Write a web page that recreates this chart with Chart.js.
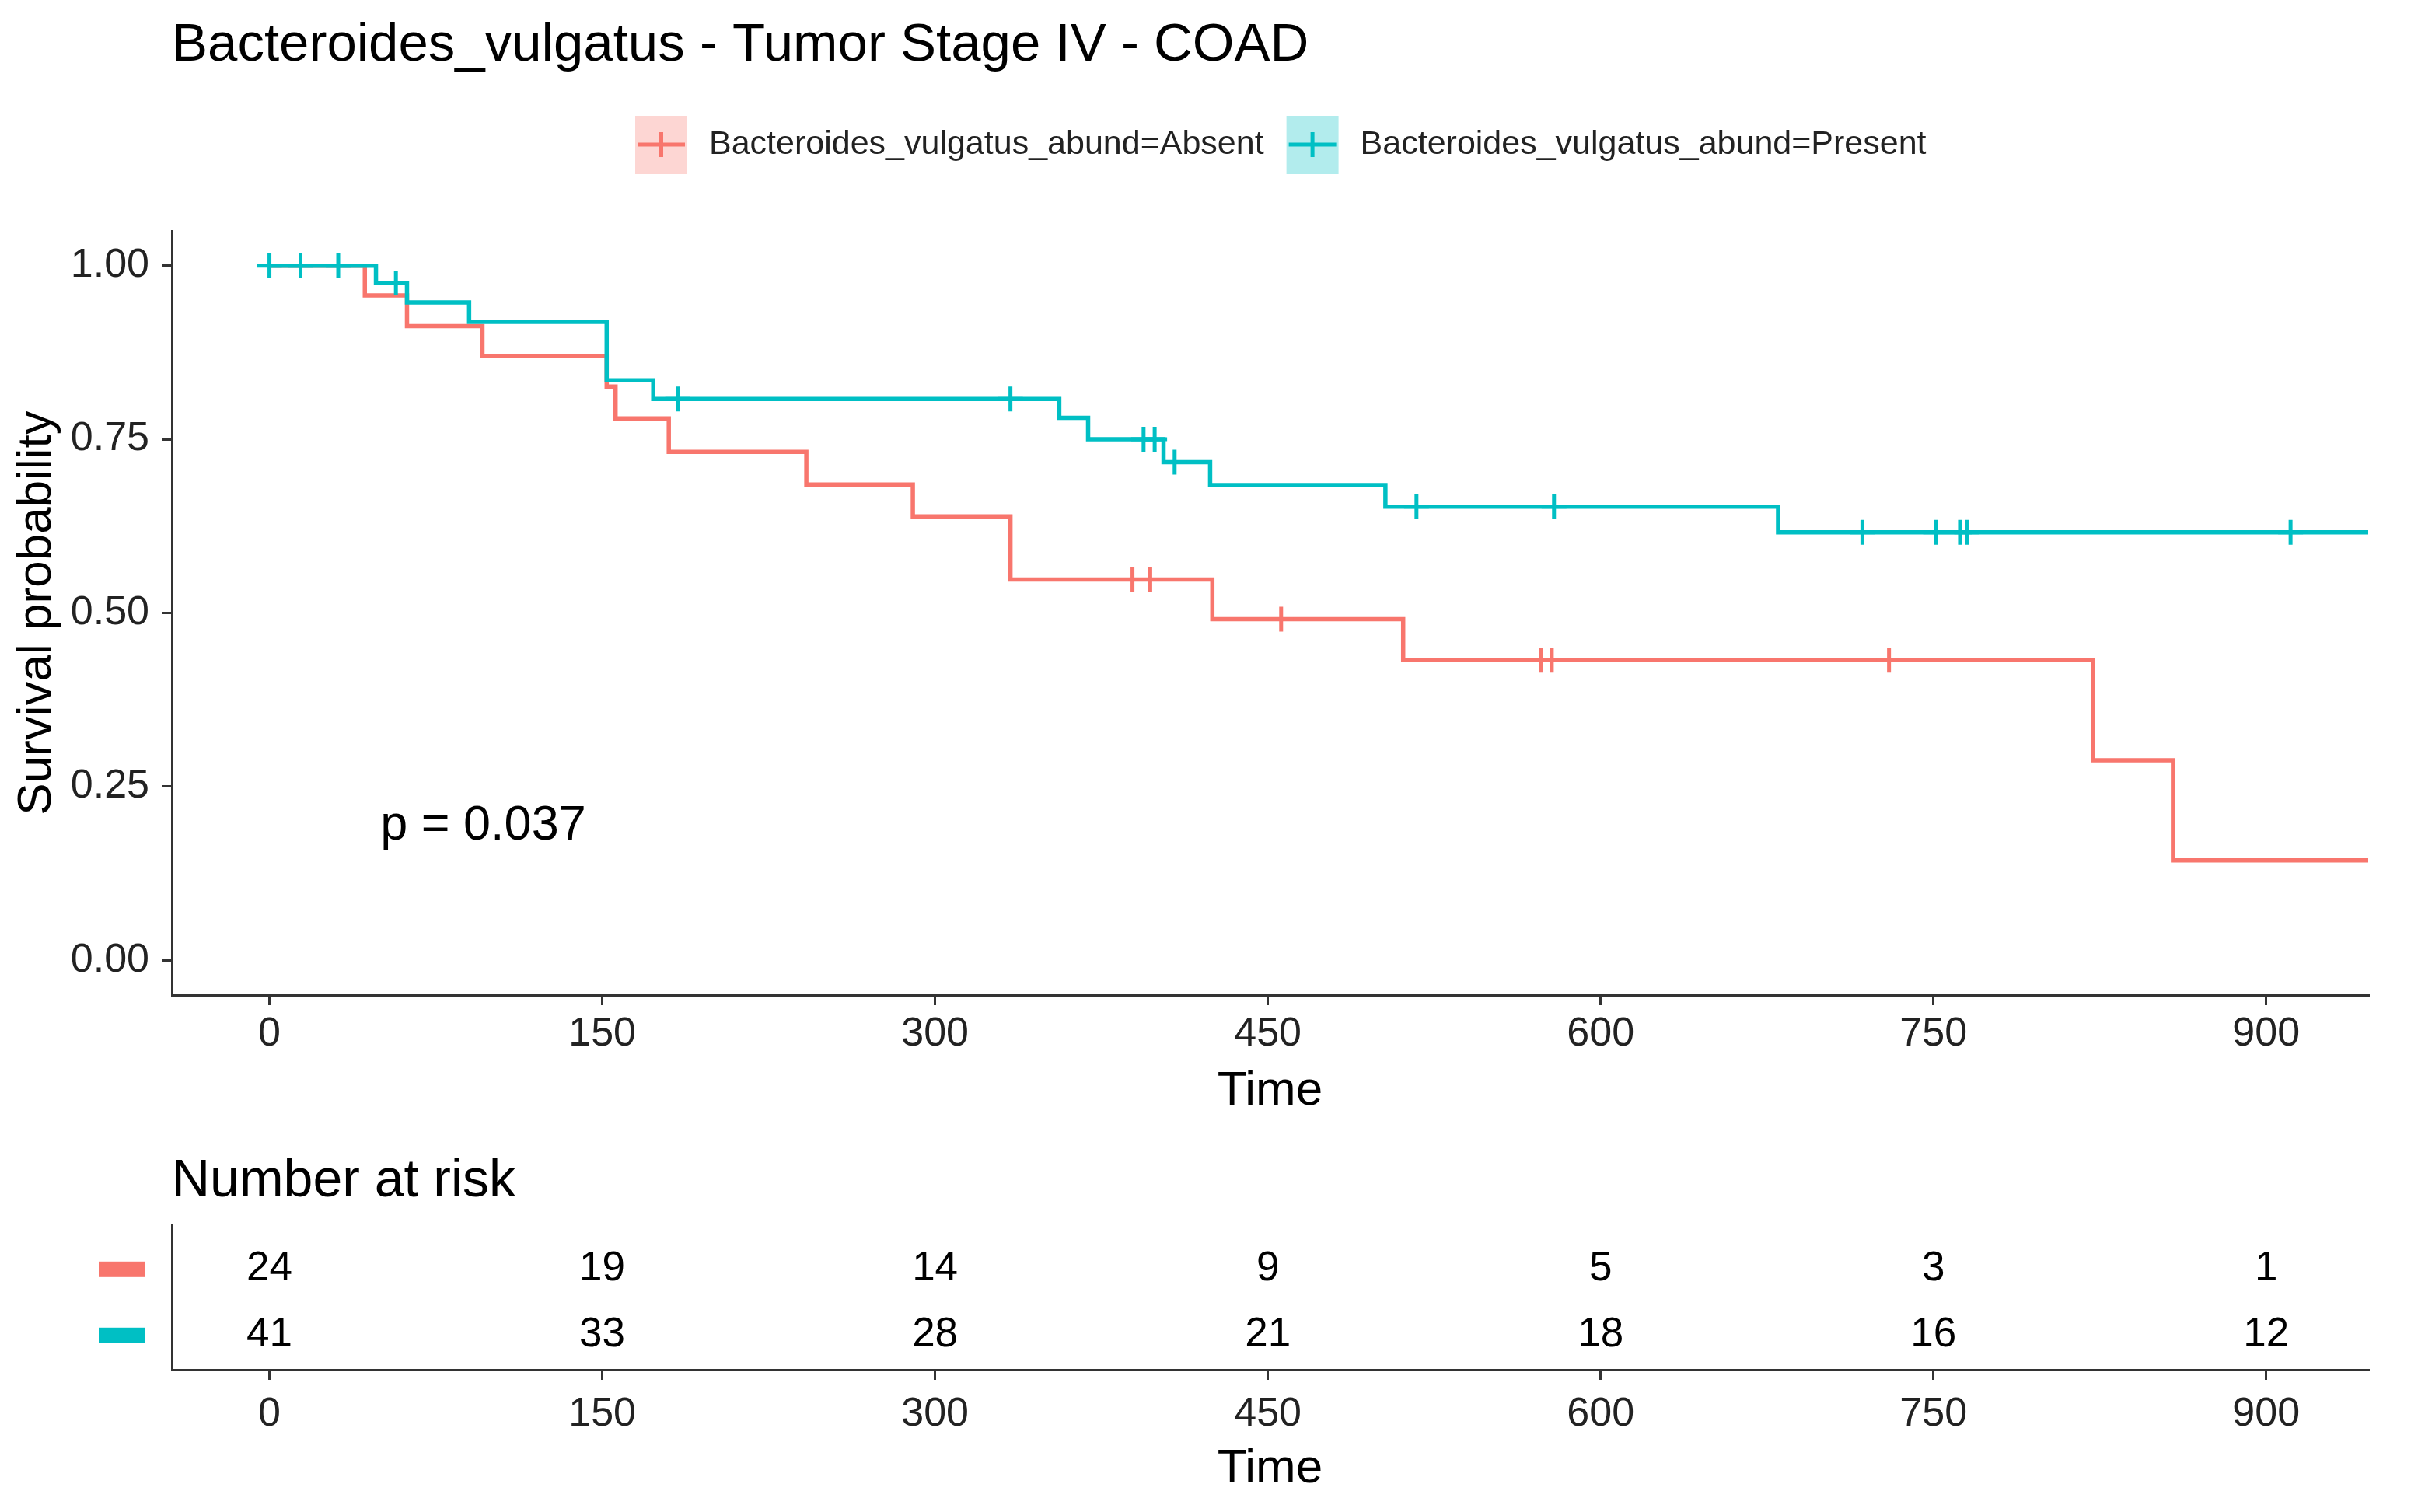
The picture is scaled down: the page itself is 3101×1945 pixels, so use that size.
<!DOCTYPE html>
<html>
<head>
<meta charset="utf-8">
<script src="https://cdn.jsdelivr.net/npm/chart.js@4.4.1/dist/chart.umd.min.js"></script>
<style>
  html, body { margin: 0; padding: 0; background: #fff; }
  #survChart { position: absolute; left: 0; top: 0; }
  #riskChart { position: absolute; left: 0; top: 1470px; }
</style>
</head>
<body>
<canvas id="survChart" width="3101" height="1480"></canvas>
<canvas id="riskChart" width="3101" height="475"></canvas>
<script>
const FONT = "'Liberation Sans', Arial, Helvetica, sans-serif";
const RED = "#F8766D";
const TEAL = "#00BFC4";
const groupColors = [RED, TEAL];

const chartTitle = "Bacteroides_vulgatus - Tumor Stage IV - COAD";
const groupNames = ["Bacteroides_vulgatus_abund=Absent", "Bacteroides_vulgatus_abund=Present"];
const pValueText = "p = 0.037";

// Kaplan-Meier steps
const absentTimes = [0, 43, 62, 96, 152, 156, 180, 242, 290, 334, 425, 511, 822, 858, 946];
const absentSurv = [1, 0.957, 0.913, 0.870, 0.826, 0.780, 0.732, 0.685, 0.639, 0.548, 0.491, 0.432, 0.288, 0.144, 0.144];
const absentCensorTimes = [389, 397, 456, 573, 578, 730];
const absentCensorSurv = [0.548, 0.548, 0.491, 0.432, 0.432, 0.432];

const presentTimes = [0, 48, 62, 90, 152, 173, 356, 369, 403, 424, 503, 680, 946];
const presentSurv = [1, 0.975, 0.947, 0.919, 0.835, 0.808, 0.781, 0.750, 0.717, 0.684, 0.653, 0.616, 0.616];
const presentCensorTimes = [0, 14, 31, 57, 184, 334, 394, 399, 408, 517, 579, 718, 751, 762, 765, 911];
const presentCensorSurv = [1, 1, 1, 0.975, 0.808, 0.808, 0.750, 0.750, 0.717, 0.653, 0.653, 0.616, 0.616, 0.616, 0.616, 0.616];

// axes and risk table
const timeTicks = [0, 150, 300, 450, 600, 750, 900];
const survTicks = [0, 0.25, 0.5, 0.75, 1];
const absentAtRisk = [24, 19, 14, 9, 5, 3, 1];
const presentAtRisk = [41, 33, 28, 21, 18, 16, 12];
const riskRows = [2, 1]; // Absent on top, Present below

const toPoints = (xs, ys) => xs.map((x, i) => ({ x: x, y: ys[i] }));

function timeScale(height, tickPad, titlePadBottom) {
  return {
    type: "linear",
    min: -44,
    max: 946,
    afterBuildTicks: s => { s.ticks = timeTicks.map(v => ({ value: v })); },
    afterFit: s => { s.height = height; },
    grid: { drawOnChartArea: false, drawTicks: true, tickLength: 13, color: "#333", lineWidth: 3 },
    border: { display: true, color: "#333", width: 3 },
    ticks: { font: { family: FONT, size: 52 }, color: "#222", padding: tickPad, maxRotation: 0, autoSkip: false },
    title: {
      display: true, text: "Time", color: "#000",
      font: { family: FONT, size: 62 },
      padding: { top: 0, bottom: titlePadBottom }
    }
  };
}

const survDecor = {
  id: "survDecor",
  afterDraw(chart) {
    const ctx = chart.ctx;
    const { x, y } = chart.scales;
    ctx.save();
    ctx.fillStyle = "#000";
    ctx.textAlign = "left";
    ctx.textBaseline = "alphabetic";
    ctx.font = "69px " + FONT;
    ctx.fillText(chartTitle, 221, 78);

    // legend on top
    ctx.font = "43px " + FONT;
    ctx.textBaseline = "middle";
    let lx = 817;
    const ly = 186;
    groupNames.forEach((name, i) => {
      const col = groupColors[i];
      ctx.globalAlpha = 0.3;
      ctx.fillStyle = col;
      ctx.fillRect(lx, ly - 37, 67, 75);
      ctx.globalAlpha = 1;
      ctx.strokeStyle = col;
      ctx.lineWidth = 5;
      ctx.beginPath();
      ctx.moveTo(lx + 3, ly);
      ctx.lineTo(lx + 64, ly);
      ctx.moveTo(lx + 33.5, ly - 16);
      ctx.lineTo(lx + 33.5, ly + 16);
      ctx.stroke();
      ctx.fillStyle = "#222";
      ctx.fillText(name, lx + 95, ly);
      lx += 95 + ctx.measureText(name).width + 29;
    });

    ctx.font = "63px " + FONT;
    ctx.fillStyle = "#000";
    ctx.fillText(pValueText, x.getPixelForValue(50), y.getPixelForValue(0.193));
    ctx.restore();
  }
};

new Chart(document.getElementById("survChart"), {
  type: "scatter",
  data: {
    datasets: [
      {
        label: "Present censored",
        data: toPoints(presentCensorTimes, presentCensorSurv),
        pointStyle: "cross", pointRadius: 16, pointBorderWidth: 5,
        borderColor: TEAL, backgroundColor: TEAL, showLine: false
      },
      {
        label: "Absent censored",
        data: toPoints(absentCensorTimes, absentCensorSurv),
        pointStyle: "cross", pointRadius: 16, pointBorderWidth: 5,
        borderColor: RED, backgroundColor: RED, showLine: false
      },
      {
        label: groupNames[1],
        data: toPoints(presentTimes, presentSurv),
        showLine: true, stepped: "before", pointRadius: 0,
        borderColor: TEAL, borderWidth: 5.5, fill: false
      },
      {
        label: groupNames[0],
        data: toPoints(absentTimes, absentSurv),
        showLine: true, stepped: "before", pointRadius: 0,
        borderColor: RED, borderWidth: 5.5, fill: false
      }
    ]
  },
  options: {
    responsive: false,
    animation: false,
    devicePixelRatio: 1,
    layout: { padding: { top: 297, right: 55, left: 0, bottom: 0 } },
    plugins: { legend: { display: false }, tooltip: { enabled: false } },
    scales: {
      x: timeScale(200, 6, 39),
      y: {
        type: "linear",
        min: -0.05,
        max: 1.05,
        afterBuildTicks: s => { s.ticks = survTicks.map(v => ({ value: v })); },
        afterFit: s => { s.width = 221; },
        grid: { drawOnChartArea: false, drawTicks: true, tickLength: 13, color: "#333", lineWidth: 3 },
        border: { display: true, color: "#333", width: 3 },
        ticks: {
          font: { family: FONT, size: 52 }, color: "#222", padding: 16,
          callback: v => Number(v).toFixed(2)
        },
        title: {
          display: true, text: "Survival probability", color: "#000",
          font: { family: FONT, size: 62 },
          padding: { top: 11, bottom: 0 }
        }
      }
    }
  },
  plugins: [survDecor]
});

const riskDecor = {
  id: "riskDecor",
  afterDatasetsDraw(chart) {
    const ctx = chart.ctx;
    const y = chart.scales.y;
    ctx.save();
    ctx.font = "53px " + FONT;
    ctx.fillStyle = "#000";
    ctx.textAlign = "center";
    ctx.textBaseline = "middle";
    chart.data.datasets.forEach((ds, i) => {
      chart.getDatasetMeta(i).data.forEach((pt, j) => {
        ctx.fillText(String(ds.data[j].n), pt.x, pt.y);
      });
    });
    riskRows.forEach((row, i) => {
      ctx.fillStyle = groupColors[i];
      ctx.fillRect(127, y.getPixelForValue(row) - 10, 59, 20);
    });
    ctx.fillStyle = "#000";
    ctx.textAlign = "left";
    ctx.textBaseline = "alphabetic";
    ctx.font = "68px " + FONT;
    ctx.fillText("Number at risk", 221, 69);
    ctx.restore();
  }
};

new Chart(document.getElementById("riskChart"), {
  type: "scatter",
  data: {
    datasets: [
      {
        label: groupNames[0],
        data: timeTicks.map((t, j) => ({ x: t, y: riskRows[0], n: absentAtRisk[j] })),
        pointRadius: 0, showLine: false
      },
      {
        label: groupNames[1],
        data: timeTicks.map((t, j) => ({ x: t, y: riskRows[1], n: presentAtRisk[j] })),
        pointRadius: 0, showLine: false
      }
    ]
  },
  options: {
    responsive: false,
    animation: false,
    devicePixelRatio: 1,
    layout: { padding: { top: 105, right: 55, left: 0, bottom: 0 } },
    plugins: { legend: { display: false }, tooltip: { enabled: false } },
    scales: {
      x: timeScale(183, 13, 18),
      y: {
        type: "linear",
        min: 0.48,
        max: 2.68,
        afterFit: s => { s.width = 221; },
        grid: { display: false },
        border: { display: true, color: "#333", width: 3 },
        ticks: { display: false }
      }
    }
  },
  plugins: [riskDecor]
});
</script>
</body>
</html>
